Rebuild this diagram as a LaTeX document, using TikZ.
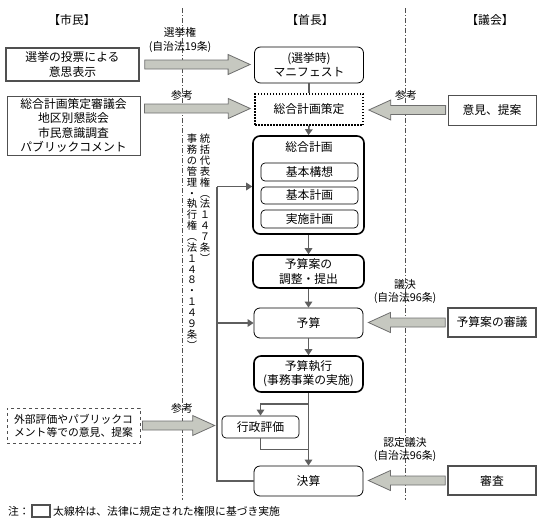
\documentclass[tikz,border=0pt]{standalone}
\usepackage{fontspec}
\setmainfont{Noto Sans CJK JP}
\usepackage{tikz}
\usetikzlibrary{calc,arrows.meta}
\definecolor{linegray}{HTML}{5E5E5E}
\definecolor{boxgray}{HTML}{505050}
\definecolor{arrfill}{HTML}{C6C8C0}
\definecolor{arrline}{HTML}{6E6E6E}

% wide grey arrow from #1 to #2 (horizontal)
\newcommand{\bigarrow}[2]{%
  \draw[bigarr] let \p1=(#1), \p2=(#2), \n1={sign(\x2-\x1)} in
    ({\x1},{\y1+4.5pt}) -- ({\x2-\n1*22pt},{\y1+4.5pt}) -- ({\x2-\n1*22pt},{\y1+10pt})
    -- ({\x2},{\y1}) -- ({\x2-\n1*22pt},{\y1-10pt}) -- ({\x2-\n1*22pt},{\y1-4.5pt})
    -- ({\x1},{\y1-4.5pt}) -- cycle;}

\begin{document}
\begin{tikzpicture}[x=1pt,y=-1pt,
    txt/.style={font=\fontsize{11.8}{14.3}\selectfont, align=center, inner sep=0pt},
    small/.style={font=\fontsize{10.8}{13.5}\selectfont, align=center, inner sep=0pt},
    vtext/.style={font=\fontsize{10.3}{10.85}\selectfont, align=center, inner sep=0pt, anchor=north},
    citbox/.style={txt, draw=boxgray, line width=0.8pt, minimum width=133pt},
    thickgray/.style={txt, draw=boxgray, line width=1.6pt},
    headbox/.style={txt, draw, rounded corners=6pt, line width=0.8pt, minimum width=109pt},
    lawbox/.style={txt, draw, rounded corners=7pt, line width=1.6pt, minimum width=109pt},
    subbox/.style={txt, draw, rounded corners=4pt, line width=0.7pt, minimum width=97pt},
    conn/.style={draw=linegray, line width=1.6pt},
    connarr/.style={conn, -{Triangle[length=6pt,width=7.5pt]}},
    bigarr/.style={fill=arrfill, draw=arrline, line width=0.8pt, line join=miter},
    sep/.style={draw=boxgray, line width=0.6pt, dash pattern=on 5pt off 2pt on 1pt off 2pt}]
  \useasboundingbox (0,0) rectangle (540,530);

  % column lines
  \draw[sep] (182,8) -- (182,500);
  \draw[sep] (405,8) -- (405,500);

  % headings
  \node[txt] (hcit) at (72,20) {【市民】};
  \node[txt] (hmay) at (310,20) {【首長】};
  \node[txt] (hcou) at (490,20) {【議会】};

  % citizens
  \node[thickgray, minimum width=133pt, minimum height=33pt] (vote) at (72.5,64.5) {選挙の投票による\\意思表示};
  \node[citbox, minimum height=59pt] (council) at (73.5,125.5) {総合計画策定審議会\\地区別懇談会\\市民意識調査\\パブリックコメント};
  \node[citbox, dashed, minimum height=35pt, font=\fontsize{10.8}{13}\selectfont] (extern) at (73.5,425.5) {外部評価やパブリックコ\\メント等での意見、提案};

  % mayor
  \node[headbox, minimum height=36pt] (manif) at (309,65) {(選挙時)\\マニフェスト};
  \node[txt, draw, line width=1.5pt, dash pattern=on 1.5pt off 1.5pt, minimum width=108pt, minimum height=31pt] (plan) at (309,109.5) {総合計画策定};
  \node[lawbox, minimum width=111pt, minimum height=98pt] (master) at (308.5,185) {};
  \node[txt] (mastertitle) at (309,147) {総合計画};
  \node[subbox, minimum height=18pt] (vision) at (309.5,172) {基本構想};
  \node[subbox, minimum height=17pt] (basic) at (309.5,195.5) {基本計画};
  \node[subbox, minimum height=18pt] (action) at (309.5,219) {実施計画};
  \node[lawbox, minimum width=111pt, minimum height=33pt] (draft) at (308.5,271.5) {予算案の\\調整・提出};
  \node[headbox, minimum height=30pt] (budget) at (308.5,323) {予算};
  \node[lawbox, minimum height=36pt] (exec) at (308.5,374) {予算執行\\(事務事業の実施)};
  \node[subbox, minimum width=77pt, minimum height=22pt] (eval) at (260.5,427) {行政評価};
  \node[headbox, minimum height=30pt] (settle) at (308.5,481) {決算};

  % assembly
  \node[txt, draw=boxgray, line width=0.8pt, minimum width=88pt, minimum height=30pt] (opinion) at (492,110) {意見、提案};
  \node[thickgray, minimum width=88pt, minimum height=29pt] (review) at (492,322.5) {予算案の審議};
  \node[thickgray, minimum width=88pt, minimum height=29pt] (audit) at (492,480.5) {審査};

  % flow
  \draw[conn] (manif.south) -- (plan.north);
  \draw[connarr] (plan.south) -- (master.north);
  \draw[connarr] (master.south) -- (draft.north);
  \draw[connarr] (draft.south) -- (budget.north);
  \draw[connarr] (budget.south) -- (exec.north);
  \draw[connarr] (exec.south) -- (settle.north);
  \draw[connarr] ($(exec.south)+(0,11)$) -| (eval.north);
  \draw[conn] (eval.south) |- ($(settle.north)+(0,-16)$);
  \coordinate (fbtop) at (217,186.5);
  \draw[conn] (settle.west) -| (fbtop);
  \draw[connarr] (fbtop) -- (fbtop -| master.west);
  \draw[connarr] (fbtop |- budget) -- (budget.west);

  % wide arrows
  \bigarrow{$(vote.east)+(5,0)$}{$(manif.west)+(-4,0)$}
  \bigarrow{$(council.east)+(4,-17)$}{$(plan.west)+(-4,0)$}
  \bigarrow{$(opinion.west)+(-2,0)$}{$(plan.east)+(5,0)$}
  \bigarrow{$(review.west)+(-2,0)$}{$(budget.east)+(5,0)$}
  \bigarrow{$(audit.west)+(-2,0)$}{$(settle.east)+(5,0)$}
  \bigarrow{$(extern.east)+(2,0)$}{$(eval.west)+(-7,0)$}

  % labels
  \node[small] (elect) at (180,40) {選挙権\\(自治法19条)};
  \node[small] (ref1) at (182,95) {参考};
  \node[small] (ref2) at (406,95) {参考};
  \node[small] (vote96) at (405,291.5) {議決\\(自治法96条)};
  \node[small] (ok96) at (405,449.5) {認定議決\\(自治法96条)};
  \node[small] (ref3) at (182,408) {参考};

  % vertical texts
  \node[vtext] (repr) at (205,134) {統\\括\\代\\表\\権\\︵\\法\\１\\４\\７\\条\\︶};
  \node[vtext] (admin) at (192,134) {事\\務\\の\\管\\理\\・\\執\\行\\権\\︵\\法\\１\\４\\８\\・\\１\\４\\９\\条\\︶};

  % note
  \node[small, anchor=west] (notemark) at (8,511) {注：};
  \node[draw=boxgray, line width=1.4pt, minimum width=18pt, minimum height=12pt, inner sep=0pt] (notebox) at (41,511) {};
  \node[small, anchor=west] (notetext) at (53,511) {太線枠は、法律に規定された権限に基づき実施};
\end{tikzpicture}
\end{document}
